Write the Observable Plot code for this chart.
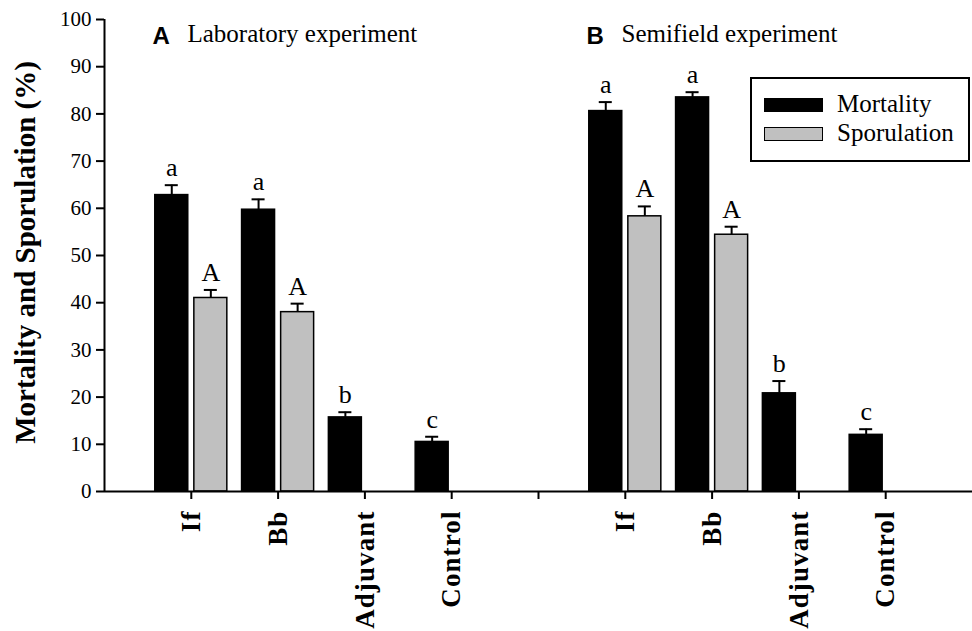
<!DOCTYPE html>
<html>
<head>
<meta charset="utf-8">
<script src="https://cdn.jsdelivr.net/npm/d3@7"></script>
<script src="https://cdn.jsdelivr.net/npm/@observablehq/plot@0.6"></script>
<style>
  html, body { margin: 0; padding: 0; background: #fff; }
  #wrap { position: relative; width: 972px; height: 631px; overflow: hidden; }
  #wrap svg { display: block; font-family: "Liberation Serif", "Times New Roman", serif !important; }
  #wrap g[aria-label="x-axis tick label"] text { font-weight: bold; letter-spacing: 1.1px; }
  .legend { position: absolute; left: 750px; top: 77px; width: 220px; height: 85px; box-sizing: border-box;
    border: 2px solid #000; background: #fff; font-family: "Liberation Serif", "Times New Roman", serif; font-size: 25px; color: #000; }
  .legend .sw { position: absolute; left: 12px; width: 59px; height: 14px; box-sizing: border-box; border: 1.5px solid #000; }
  .legend .lab { position: absolute; left: 85px; line-height: 25px; }
</style>
</head>
<body>
<div id="wrap"></div>
<script>
// ---- data ----
const experiments = ["Laboratory experiment", "Semifield experiment"];
const panelLetters = ["A", "B"];
const treatments = ["If", "Bb", "Adjuvant", "Control"];
const seriesNames = ["Mortality", "Sporulation"];
const seriesColors = ["#000000", "#c0c0c0"];

const labMortality = [62.8, 59.7, 15.7, 10.5];
const labMortalityErr = [2.1, 2.2, 1.1, 1.1];
const labSporulation = [41.0, 38.0, null, null];
const labSporulationErr = [1.7, 1.8, null, null];

const semiMortality = [80.6, 83.5, 20.8, 12.0];
const semiMortalityErr = [1.9, 1.1, 2.6, 1.2];
const semiSporulation = [58.3, 54.4, null, null];
const semiSporulationErr = [2.1, 1.7, null, null];

const mortalityLetters = ["a", "a", "b", "c"];
const sporulationLetters = ["A", "A", null, null];

const yTicks = [0, 10, 20, 30, 40, 50, 60, 70, 80, 90, 100];
const yLabel = "Mortality and Sporulation (%)";

// ---- build table ----
// category slots: lab treatments at 1..4, gap at 5, semifield at 6..9
const slotOf = (e, i) => e * (treatments.length + 1) + i + 1;
const values = [[labMortality, labSporulation], [semiMortality, semiSporulation]];
const errors = [[labMortalityErr, labSporulationErr], [semiMortalityErr, semiSporulationErr]];
const letters = [mortalityLetters, sporulationLetters];

const rows = [];
experiments.forEach((exp, e) => {
  treatments.forEach((t, i) => {
    seriesNames.forEach((s, k) => {
      const v = values[e][k][i];
      if (v == null) return;
      rows.push({exp, treatment: t, series: s, k, value: v, err: errors[e][k][i], letter: letters[k][i], pos: slotOf(e, i)});
    });
  });
});

const tickPositions = d3.range(1, 2 * (treatments.length + 1));
const tickNames = new Map();
experiments.forEach((exp, e) => treatments.forEach((t, i) => tickNames.set(slotOf(e, i), t)));

const barHalf = 0.19, barOff = 0.225;
const barCenter = d => d.pos + (d.k === 0 ? -barOff : barOff);
const errTop = d => d.value + d.err;

const titles = experiments.map((exp, e) => ({letter: panelLetters[e], text: exp, slot: e * (treatments.length + 1)}));

const serif = "'Liberation Serif', 'Times New Roman', serif";

const chart = Plot.plot({
  width: 972,
  height: 631,
  marginLeft: 104,
  marginRight: 0,
  marginTop: 19,
  marginBottom: 140,
  x: {domain: [0, 2 * (treatments.length + 1)]},
  y: {domain: [0, 100]},
  style: {fontFamily: serif, background: "#fff", color: "#000", overflow: "visible"},
  marks: [
    Plot.rectY(rows, {
      x1: d => barCenter(d) - barHalf, x2: d => barCenter(d) + barHalf,
      y1: 0, y2: "value",
      fill: d => seriesColors[d.k], stroke: "#000", strokeWidth: 1.5
    }),
    Plot.ruleX(rows, {x: barCenter, y1: "value", y2: errTop, stroke: "#000", strokeWidth: 2}),
    Plot.ruleY(rows, {y: errTop, x1: d => barCenter(d) - 0.075, x2: d => barCenter(d) + 0.075, stroke: "#000", strokeWidth: 2}),
    Plot.text(rows, {x: barCenter, y: errTop, text: "letter", dy: -9, lineAnchor: "bottom", fontSize: 26, fontFamily: serif, fill: "#000"}),
    Plot.ruleY([0], {stroke: "#000", strokeWidth: 2}),
    Plot.ruleX([0], {stroke: "#000", strokeWidth: 2}),
    Plot.axisY({ticks: yTicks, tickSize: 8, tickPadding: 5, fontSize: 21, label: null, strokeWidth: 2, fontFamily: serif}),
    Plot.axisX({ticks: tickPositions, tickFormat: d => tickNames.get(d) ?? "", tickRotate: -90, tickSize: 8,
      tickPadding: 11, fontSize: 27, label: null, strokeWidth: 2, fontFamily: serif}),
    Plot.text([yLabel], {frameAnchor: "left", textAnchor: "middle", rotate: -90, dx: -79, dy: -3, fontSize: 29, fontWeight: "bold", fontFamily: serif, fill: "#000"}),
    Plot.text(titles, {x: d => d.slot + 0.553, y: 94.9, text: "letter", textAnchor: "start", lineAnchor: "bottom",
      fontSize: 24, fontWeight: "bold", fontFamily: "'Liberation Sans', Arial, sans-serif", fill: "#000"}),
    Plot.text(titles, {x: d => d.slot + 0.956, y: 95.2, text: "text", textAnchor: "start", lineAnchor: "bottom",
      fontSize: 25, fontFamily: serif, fill: "#000"})
  ]
});

const wrap = document.getElementById("wrap");
wrap.appendChild(chart);

const legend = document.createElement("div");
legend.className = "legend";
seriesNames.forEach((s, k) => {
  const sw = document.createElement("div");
  sw.className = "sw";
  sw.style.top = (19 + k * 29) + "px";
  sw.style.background = seriesColors[k];
  legend.appendChild(sw);
  const lab = document.createElement("div");
  lab.className = "lab";
  lab.style.top = (12 + k * 29) + "px";
  lab.textContent = s;
  legend.appendChild(lab);
});
wrap.appendChild(legend);
</script>
</body>
</html>
